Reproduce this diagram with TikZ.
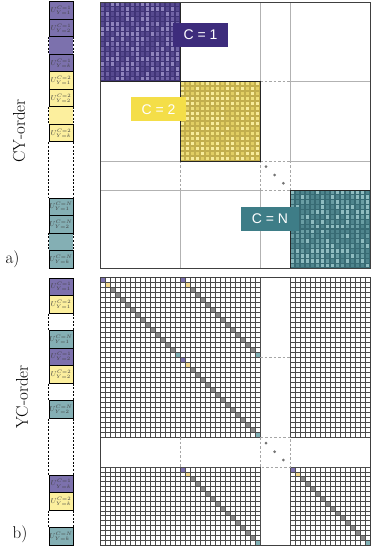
\documentclass[tikz,border=0pt]{standalone}
\usepackage{fontspec}
\newfontfamily\labfont{Liberation Sans}
\definecolor{P1}{HTML}{574A8F}
\definecolor{P2}{HTML}{7063A5}
\definecolor{P3}{HTML}{8F84BD}
\definecolor{PL}{HTML}{403477}
\definecolor{Y1}{HTML}{E2CF64}
\definecolor{Y2}{HTML}{F0E17E}
\definecolor{Y3}{HTML}{F8EC9C}
\definecolor{YL}{HTML}{C2AE4C}
\definecolor{T1}{HTML}{4F858D}
\definecolor{T2}{HTML}{6A9EA4}
\definecolor{T3}{HTML}{8FBCC0}
\definecolor{TL}{HTML}{386B74}
\definecolor{labP}{HTML}{3D2C7C}
\definecolor{labY}{HTML}{F4DE48}
\definecolor{labT}{HTML}{3E7D87}
\definecolor{sideP}{HTML}{7C71AD}
\definecolor{sideY}{HTML}{FCEF9E}
\definecolor{sideT}{HTML}{84AFB4}
\definecolor{dP}{HTML}{7D72AE}
\definecolor{dY}{HTML}{F6D98C}
\definecolor{dG}{HTML}{8A8A8A}
\definecolor{dT}{HTML}{80B1B6}
\newcommand\mosaic[5]{%
  \fill[#5L] (#1,#2) rectangle (#3,#4);
  \foreach \i in {0,...,15}{\foreach \j in {0,...,15}{%
    \pgfmathrandominteger{\rr}{1}{3}%
    \edef\cc{#5\rr}%
    \pgfmathsetmacro\xa{#1+(#3-#1)*\j/16+0.55}%
    \pgfmathsetmacro\xb{#1+(#3-#1)*(\j+1)/16-0.55}%
    \pgfmathsetmacro\ya{#2+(#4-#2)*\i/16+0.55}%
    \pgfmathsetmacro\yb{#2+(#4-#2)*(\i+1)/16-0.55}%
    \fill[fill=\cc] (\xa,\ya) rectangle (\xb,\yb);}}
  \draw[blk] (#1,#2) rectangle (#3,#4);}
\tikzset{
  frame/.style={draw=black!75, line width=0.9pt},
  sep/.style={draw=black!30, line width=0.8pt},
  sepd/.style={draw=black!35, line width=0.8pt, dash pattern=on 2.5pt off 2pt},
  blk/.style={draw=black!85, line width=0.9pt},
  gridl/.style={draw=black!70, line width=0.6pt},
  cellbox/.style={draw=black, line width=1pt, minimum width=24pt, minimum height=17.5pt, inner sep=0pt, font=\scriptsize, text=black!75},
  blankbox/.style={minimum width=24pt, minimum height=17.5pt, inner sep=0pt},
  sdash/.style={draw=black, line width=1pt, dash pattern=on 2pt off 1.6pt},
  lab/.style={text=white, font=\labfont\fontsize{14}{16}\selectfont, minimum height=24pt, inner sep=0pt},
  side/.style={font=\fontsize{17}{20}\selectfont},
  gdot/.style={fill=black!55}
}
\begin{document}
\begin{tikzpicture}[x=1pt,y=-1pt]
\useasboundingbox (0,0) rectangle (374,548);
\pgfmathsetseed{11}
% ---------- a) matrix separators
\draw[sep] (180,2) -- (180,161); \draw[sepd] (180,161) -- (180,190); \draw[sep] (180,190) -- (180,268);
\draw[sep] (260,2) -- (260,161); \draw[sepd] (260,161) -- (260,190); \draw[sep] (260,190) -- (260,268);
\draw[sep] (290,2) -- (290,161); \draw[sepd] (290,161) -- (290,190); \draw[sep] (290,190) -- (290,268);
\foreach \yy in {81,161,190}{
  \draw[sep] (100,\yy) -- (260,\yy); \draw[sepd] (260,\yy) -- (290,\yy); \draw[sep] (290,\yy) -- (370,\yy);}
\mosaic{100}{2}{180}{81}{P}
\mosaic{180}{81}{260}{161}{Y}
\mosaic{290}{190}{370}{268}{T}
\fill[gdot] (266,166.7) circle (1.5) (274.7,175) circle (1.5) (283.3,183.3) circle (1.5);
\draw[frame] (100,2) rectangle (370,268);
\node[lab, fill=labP, minimum width=55pt] (l1) at (200.5,35) {C = 1};
\node[lab, fill=labY, minimum width=55pt] (l2) at (158.5,109.5) {C = 2};
\node[lab, fill=labT, minimum width=58pt] (lN) at (270,219) {C = N};
% ---------- b) matrix
\foreach \i/\c in {0/dP,1/dY,2/dG,3/dG,4/dG,5/dG,6/dG,7/dG,8/dG,9/dG,10/dG,11/dG,12/dG,13/dG,14/dG,15/dT}{
  \fill[\c] ({100+5*\i},{277+5*\i}) rectangle ++(5,5);
  \fill[\c] ({180+5*\i},{277+5*\i}) rectangle ++(5,5);
  \fill[\c] ({180+5*\i},{357+5*\i}) rectangle ++(5,5);
  \fill[\c] ({180+5*\i},{467+4.875*\i}) rectangle ++(5,4.875);
  \fill[\c] ({290+5*\i},{467+4.875*\i}) rectangle ++(5,4.875);
}
\foreach \k in {0,...,32}{
  \draw[gridl] (100,{277+5*\k}) -- (260,{277+5*\k});
  \draw[gridl] (290,{277+5*\k}) -- (370,{277+5*\k});
  \draw[gridl] ({100+5*\k},277) -- ({100+5*\k},437);
  \draw[gridl] ({100+5*\k},467) -- ({100+5*\k},545);
}
\foreach \k in {0,...,16}{
  \draw[gridl] (100,{467+4.875*\k}) -- (260,{467+4.875*\k});
  \draw[gridl] (290,{467+4.875*\k}) -- (370,{467+4.875*\k});
  \draw[gridl] ({290+5*\k},277) -- ({290+5*\k},437);
  \draw[gridl] ({290+5*\k},467) -- ({290+5*\k},545);
}
\draw[sepd] (260,357) -- (290,357);
\draw[sepd] (180,437) -- (180,467);
\draw[sepd] (260,437) rectangle (290,467);
\fill[gdot] (266,443) circle (1.5) (274.7,451.7) circle (1.5) (283.3,460) circle (1.5);
\draw[frame] (100,277) rectangle (370,545);
% ---------- a) side bar
\node[blankbox, fill=sideP] (pb) at (61,45.75) {};
\node[blankbox, fill=sideY] (yb) at (61,115.75) {};
\node[blankbox, fill=sideT] (tb) at (61,241.75) {};
\node[cellbox, fill=sideP] (pa1) at (61,10.75) {$U^{C=1}_{Y=1}$};
\node[cellbox, fill=sideP] (pa2) at (61,28.25) {$U^{C=1}_{Y=2}$};
\node[cellbox, fill=sideP] (pak) at (61,63.25) {$U^{C=1}_{Y=k}$};
\node[cellbox, fill=sideY] (ya1) at (61,80.75) {$U^{C=2}_{Y=1}$};
\node[cellbox, fill=sideY] (ya2) at (61,98.25) {$U^{C=2}_{Y=2}$};
\node[cellbox, fill=sideY] (yak) at (61,133.25) {$U^{C=2}_{Y=k}$};
\node[cellbox, fill=sideT] (ta1) at (61,206.75) {$U^{C=N}_{Y=1}$};
\node[cellbox, fill=sideT] (ta2) at (61,224.25) {$U^{C=N}_{Y=2}$};
\node[cellbox, fill=sideT] (tak) at (61,259.25) {$U^{C=N}_{Y=k}$};
\foreach \b in {pb,yb,tb}{
  \draw[sdash] (\b.north west) -- (\b.south west);
  \draw[sdash] (\b.north east) -- (\b.south east);}
\draw[sdash] (yak.south west) -- (ta1.north west);
\draw[sdash] (yak.south east) -- (ta1.north east);
% ---------- b) side bar
\node[cellbox, fill=sideP] (pb1) at (61,286.75) {$U^{C=1}_{Y=1}$};
\node[cellbox, fill=sideY] (yb1) at (61,304.25) {$U^{C=2}_{Y=1}$};
\node[cellbox, fill=sideT] (tb1) at (61,339.25) {$U^{C=N}_{Y=1}$};
\node[cellbox, fill=sideP] (pb2) at (61,356.75) {$U^{C=1}_{Y=2}$};
\node[cellbox, fill=sideY] (yb2) at (61,374.25) {$U^{C=2}_{Y=2}$};
\node[cellbox, fill=sideT] (tb2) at (61,409.25) {$U^{C=N}_{Y=2}$};
\node[cellbox, fill=sideP] (pbk) at (61,483.75) {$U^{C=1}_{Y=k}$};
\node[cellbox, fill=sideY] (ybk) at (61,501.25) {$U^{C=2}_{Y=k}$};
\node[cellbox, fill=sideT] (tbk) at (61,536.25) {$U^{C=N}_{Y=k}$};
\foreach \u/\v in {yb1/tb1,yb2/tb2,tb2/pbk,ybk/tbk}{
  \draw[sdash] (\u.south west) -- (\v.north west);
  \draw[sdash] (\u.south east) -- (\v.north east);}
% ---------- labels
\node[side, rotate=90] (cy) at (19,131) {CY-order};
\node[side, rotate=90] (yc) at (22,397) {YC-order};
\node[side] (la) at (12.5,259) {a)};
\node[side] (lb) at (20,534) {b)};
\end{tikzpicture}
\end{document}
